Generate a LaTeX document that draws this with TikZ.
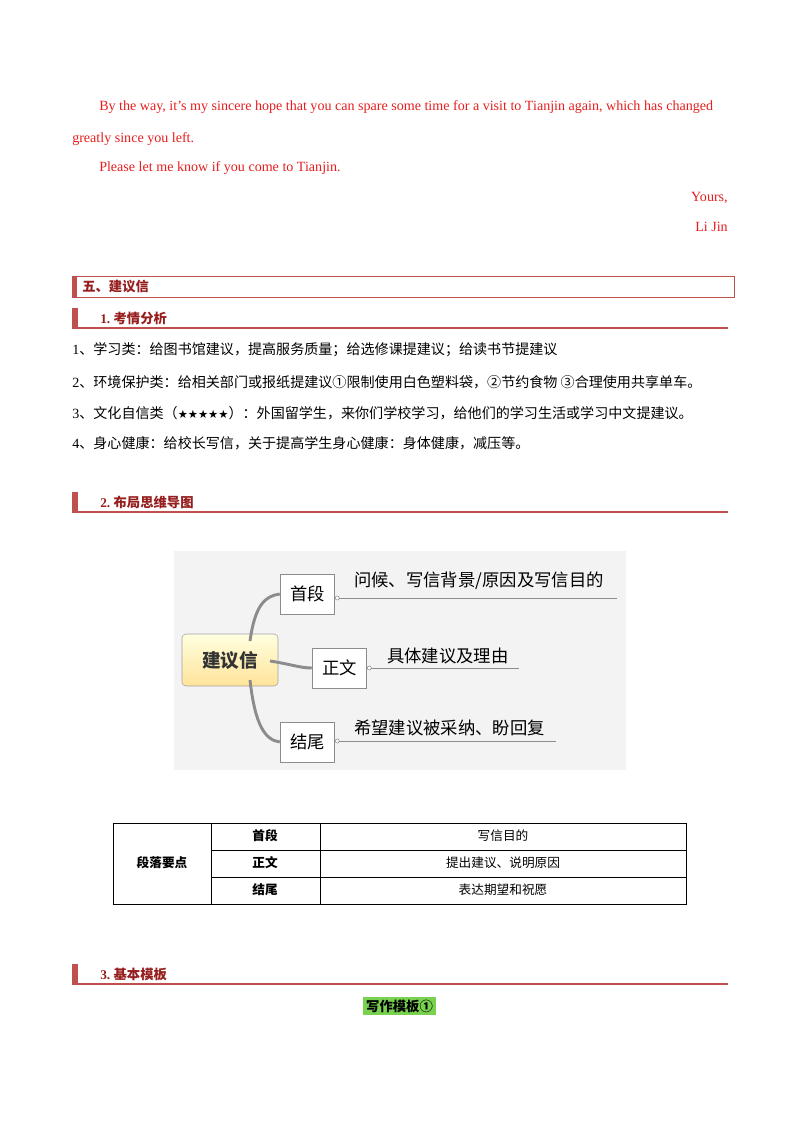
\documentclass[tikz,border=0pt]{standalone}
\usepackage{fontspec}
\setmainfont{Liberation Serif}
\newfontfamily\cjk{Noto Sans CJK SC}
\definecolor{txtred}{RGB}{230,30,30}
\definecolor{hred}{RGB}{192,80,77}
\definecolor{dred}{RGB}{150,30,30}
\definecolor{mmbg}{RGB}{243,243,243}
\definecolor{mmline}{RGB}{140,140,140}
\definecolor{hlgreen}{RGB}{120,210,80}
\begin{document}
\begin{tikzpicture}[x=0.75pt,y=-0.75pt,
  en/.style={font=\fontsize{10.55}{12}\selectfont,text=txtred,inner sep=0,anchor=base west},
  item/.style={font=\cjk\fontsize{10.55}{12}\selectfont,inner sep=0,anchor=west},
  head/.style={font=\cjk\bfseries\fontsize{10}{12}\selectfont,text=dred,inner sep=0,anchor=west},
  mmbox/.style={draw=mmline,fill=white,line width=0.6pt,minimum width=41pt,minimum height=30pt,font=\cjk\fontsize{13}{15}\selectfont},
  mmtxt/.style={font=\cjk\fontsize{13}{15}\selectfont,inner sep=0,anchor=south west},
  branch/.style={draw=mmline,line width=2.2pt},
  cell/.style={font=\cjk\fontsize{9.5}{11}\selectfont,inner sep=0}]
\useasboundingbox (0,0) rectangle (800,1132);
% English letter ending
\node[en] (l1) at (99,110) {By the way, it’s my sincere hope that you can spare some time for a visit to Tianjin again, which has changed};
\node[en] (l2) at (72,142) {greatly since you left.};
\node[en] (l3) at (99,171) {Please let me know if you come to Tianjin.};
\node[en,anchor=base east] (l4) at (728,201) {Yours,};
\node[en,anchor=base east] (l5) at (728,231) {Li Jin};
% Section heading
\draw[hred,line width=0.6pt] (72,276) rectangle (734,297);
\fill[hred] (72,276) rectangle (77,297);
\node[head] (h0) at (82,287) {五、建议信};
% subheading 1
\fill[hred] (72,308) rectangle (78,328);
\draw[hred,line width=0.8pt] (72,328) -- (728,328);
\node[head] (h1) at (100,318) {\fontspec{Liberation Serif}\bfseries 1.\ \cjk 考情分析};
\node[item] (i1) at (72,350) {\fontspec{Liberation Serif}1\cjk 、学习类：给图书馆建议，提高服务质量；给选修课提建议；给读书节提建议};
\node[item] (i2) at (72,382) {\fontspec{Liberation Serif}2\cjk 、环境保护类：给相关部门或报纸提建议①限制使用白色塑料袋，②节约食物 ③合理使用共享单车。};
\node[item] (i3) at (72,413) {\fontspec{Liberation Serif}3\cjk 、文化自信类（{\fontspec{DejaVu Sans}\fontsize{8.5}{10}\selectfont ★★★★★}）：外国留学生，来你们学校学习，给他们的学习生活或学习中文提建议。};
\node[item] (i4) at (72,443) {\fontspec{Liberation Serif}4\cjk 、身心健康：给校长写信，关于提高学生身心健康：身体健康，减压等。};
% subheading 2
\fill[hred] (72,492) rectangle (78,512);
\draw[hred,line width=0.8pt] (72,512) -- (728,512);
\node[head] (h2) at (100,502) {\fontspec{Liberation Serif}\bfseries 2.\ \cjk 布局思维导图};
% mind map
\fill[mmbg] (174,551) rectangle (626,770);
\node[draw=mmline!80,rounded corners=3pt,top color=yellow!12,bottom color=yellow!45!orange!40,minimum width=72pt,minimum height=39pt,font=\cjk\bfseries\fontsize{14}{16}\selectfont,text=black!80] (c) at (230,660) {建议信};
\node[mmbox] (b1) at (307.5,594) {首段};
\node[mmbox] (b2) at (339.5,668) {正文};
\node[mmbox] (b3) at (307.5,742) {结尾};
\draw[branch] (250,641) .. controls (255,605) and (265,596) .. (b1.west);
\draw[branch] (270,661) .. controls (290,664) and (300,668) .. (b2.west);
\draw[branch] (250,680) .. controls (255,725) and (265,740) .. (b3.west);
\coordinate (e1) at (617,598); \coordinate (e2) at (519,668); \coordinate (e3) at (556,741);
\draw[mmline,line width=0.6pt] (b1.east) ++(3,4) -- (e1);
\draw[mmline,line width=0.6pt] (b2.east) ++(3,0) -- (e2);
\draw[mmline,line width=0.6pt] (b3.east) ++(3,-1) -- (e3);
\foreach \b/\dy in {b1/4,b2/0,b3/-1} \draw[mmline,fill=white,line width=0.4pt] (\b.east) ++(2,\dy) circle (2);
\node[mmtxt] (t1) at (354,590) {问候、写信背景/原因及写信目的};
\node[mmtxt] (t2) at (387,664) {具体建议及理由};
\node[mmtxt] (t3) at (354,736) {希望建议被采纳、盼回复};
% table
\draw[line width=0.6pt] (113,823) rectangle (686,904);
\draw[line width=0.6pt] (211,823) -- (211,904) (320,823) -- (320,904);
\draw[line width=0.6pt] (211,850) -- (686,850) (211,877) -- (686,877);
\node[cell,font=\cjk\bfseries\fontsize{9.5}{11}\selectfont] (k) at (162,863) {段落要点};
\node[cell,font=\cjk\bfseries\fontsize{9.5}{11}\selectfont] (k1) at (265,836) {首段};
\node[cell,font=\cjk\bfseries\fontsize{9.5}{11}\selectfont] (k2) at (265,863) {正文};
\node[cell,font=\cjk\bfseries\fontsize{9.5}{11}\selectfont] (k3) at (265,890) {结尾};
\node[cell] (v1) at (503,836) {写信目的};
\node[cell] (v2) at (503,863) {提出建议、说明原因};
\node[cell] (v3) at (503,890) {表达期望和祝愿};
% subheading 3
\fill[hred] (72,964) rectangle (78,984);
\draw[hred,line width=0.8pt] (72,984) -- (728,984);
\node[head] (h3) at (100,974) {\fontspec{Liberation Serif}\bfseries 3.\ \cjk 基本模板};
\fill[hlgreen] (363,997) rectangle (436,1015);
\node[cell,font=\cjk\bfseries\fontsize{10}{12}\selectfont] (w) at (399.5,1006) {写作模板①};
\end{tikzpicture}
\end{document}
